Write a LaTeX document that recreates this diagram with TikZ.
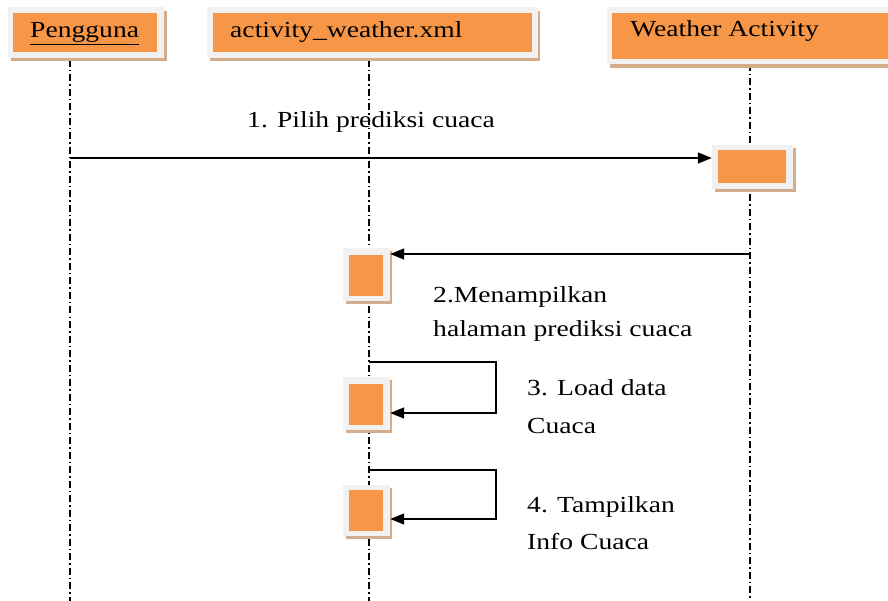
\documentclass[tikz,border=0pt]{standalone}
\usepackage{fontspec}
\setmainfont{Liberation Serif}
\usetikzlibrary{fit,arrows.meta}
\definecolor{umlorange}{HTML}{F79646}
\definecolor{framegray}{HTML}{F1F1F1}
\definecolor{shadowtan}{RGB}{212,172,138}
\tikzset{
  frame/.style={fill=framegray, draw=none, inner sep=0pt},
  core/.style={fill=umlorange, draw=none, inner sep=0pt},
  shade/.style={fill=shadowtan, draw=none},
  lifeline/.style={line width=1.3pt, dash pattern=on 7pt off 3pt on 1.5pt off 3pt},
  msg/.style={line width=1.4pt, -{Triangle[length=14pt,width=11pt]}},
  txt/.style={font=\fontsize{23}{27}\selectfont, xscale=1.2, inner sep=0pt, anchor=base west},
}
\begin{document}
\begin{tikzpicture}[x=1pt,y=-1pt]
\useasboundingbox (0,0) rectangle (888,601);
% lifelines
\coordinate (l1t) at (70,60);  \coordinate (l1b) at (70,601);
\coordinate (l2t) at (369,60); \coordinate (l2b) at (369,601);
\coordinate (l3t) at (750,64); \coordinate (l3b) at (750,601);
\draw[lifeline] (l1t) -- (l1b);
\draw[lifeline] (l2t) -- (l2b);
\draw[lifeline] (l3t) -- (l3b);
% header boxes
\fill[shade] (11,11) rectangle (167,61);
\node[frame, fit={(8,7)(164,58)}] (pengf) {};
\node[core, fit={(13,13)(157,52)}] (peng) {};
\node[txt] (pengt) at (30,38) {\underline{Pengguna}};

\fill[shade] (210,11) rectangle (540,61);
\node[frame, fit={(207,7)(538,58)}] (actf) {};
\node[core, fit={(213,13)(532,52)}] (act) {};
\node[txt] (actt) at (230,38) {activity\_weather.xml};

\fill[shade] (610,11) rectangle (888,68);
\node[frame, fit={(607,7)(888,64)}] (weaf) {};
\node[core, fit={(612,13)(888,59)}] (wea) {};
\node[txt] (weat) at (630,37) {Weather Activity};

% activation boxes
\fill[shade] (715,148) rectangle (796,192);
\node[frame, fit={(712,145)(793,189)}] (wactf) {};
\node[core, fit={(718,150)(786,183)}] (wact) {};

\fill[shade] (346,251) rectangle (392,304);
\node[frame, fit={(343,248)(390,301)}] (a2f) {};
\node[core, fit={(349,255)(383,296)}] (a2) {};

\fill[shade] (346,380) rectangle (392,433);
\node[frame, fit={(343,377)(390,430)}] (a3f) {};
\node[core, fit={(349,384)(383,425)}] (a3) {};

\fill[shade] (346,488) rectangle (392,539);
\node[frame, fit={(343,485)(390,536)}] (a4f) {};
\node[core, fit={(349,490)(383,531)}] (a4) {};

% messages
\coordinate (m1s) at (70,158);
\draw[msg] (m1s) -- (m1s -| wactf.west);
\node[txt] (m1t) at (247,128) {1. Pilih prediksi cuaca};

\coordinate (m2s) at (750,254);
\draw[msg] (m2s) -- (m2s -| a2f.east);
\node[txt] (m2t) at (433,303) {2.Menampilkan};
\node[txt] (m2u) at (433,336) {halaman prediksi cuaca};

\coordinate (m3s) at (369,362);
\coordinate (m3c) at (496,413);
\draw[msg] (m3s) -| (m3c) -- (m3c -| a3f.east);
\node[txt] (m3t) at (527,395) {3. Load data};
\node[txt] (m3u) at (527,433) {Cuaca};

\coordinate (m4s) at (369,470);
\coordinate (m4c) at (496,519);
\draw[msg] (m4s) -| (m4c) -- (m4c -| a4f.east);
\node[txt] (m4t) at (527,512) {4. Tampilkan};
\node[txt] (m4u) at (527,549) {Info Cuaca};
\end{tikzpicture}
\end{document}
